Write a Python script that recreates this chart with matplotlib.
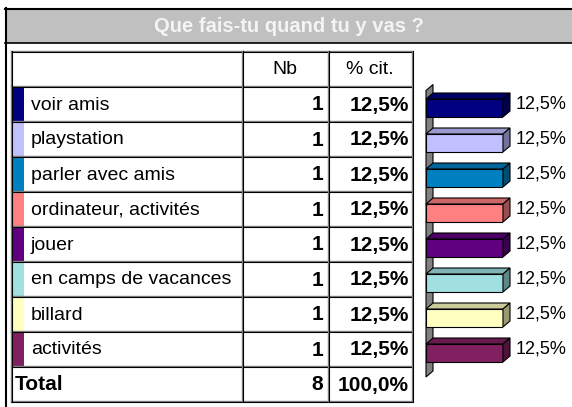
import matplotlib.pyplot as plt
import numpy as np
from matplotlib.patches import Rectangle, Polygon
from matplotlib.colors import to_rgb

plt.rcParams['font.family'] = ['Liberation Sans', 'DejaVu Sans']

titre = 'Que fais-tu quand tu y vas ?'
reponses = ['voir amis', 'playstation', 'parler avec amis', 'ordinateur, activités',
            'jouer', 'en camps de vacances', 'billard', 'activités']
nb = [1, 1, 1, 1, 1, 1, 1, 1]
couleurs = ['#000080', '#C0C0FF', '#0080C0', '#FF8080',
            '#600080', '#A0E0E0', '#FFFFC0', '#802060']

total = sum(nb)
pct = [100.0 * n / total for n in nb]


def fmt(v):
    return f'{v:.1f}'.replace('.', ',') + '%'


W, H = 572, 407
fig = plt.figure(figsize=(W / 100, H / 100), dpi=100)
fig.patch.set_facecolor('white')

# fond en pixels pour le cadre et le tableau
bg = fig.add_axes([0, 0, 1, 1])
bg.set_xlim(0, W)
bg.set_ylim(H, 0)
bg.axis('off')

# cadre + bandeau du titre
bg.add_patch(Rectangle((6, 9), W, 34, facecolor='#C0C0C0', edgecolor='none'))
bg.plot([5.5, 5.5], [8, H], color='black', lw=1.5)
bg.plot([5, W], [9, 9], color='black', lw=1.5)
bg.plot([5, W], [43, 43], color='black', lw=1.2)
bg.text(289, 27, titre, color='#F4F4F4', fontsize=14.5, fontweight='bold',
        ha='center', va='center')

# tableau
col_x = [11, 242, 328, 412]
haut = 51
h_row = 35
n = len(reponses)
lignes_y = [haut + h_row * k for k in range(n + 3)]
bas = lignes_y[-1]

for k, c in enumerate(couleurs):
    y0 = lignes_y[k + 1]
    bg.add_patch(Rectangle((col_x[0], y0), 13, h_row, facecolor=c, edgecolor='none'))

for y in lignes_y:
    bg.plot([col_x[0], col_x[-1]], [y, y], color='#808080', lw=1)
    bg.plot([col_x[0], col_x[-1]], [y + 1, y + 1], color='black', lw=0.8)
for x in col_x:
    bg.plot([x, x], [haut, bas], color='#808080', lw=1)
    bg.plot([x + 1, x + 1], [haut, bas + 1], color='black', lw=0.8)

fs = 14
fsb = 15
dy_txt = 1.5
yc = haut + h_row / 2 + dy_txt
bg.text((col_x[1] + col_x[2]) / 2, yc, 'Nb', fontsize=fs, ha='center', va='center')
bg.text((col_x[2] + col_x[3]) / 2, yc, '% cit.', fontsize=fs, ha='center', va='center')

for k in range(n):
    yc = lignes_y[k + 1] + h_row / 2 + dy_txt
    bg.text(31, yc, reponses[k], fontsize=fs, ha='left', va='center')
    bg.text(col_x[2] - 5, yc, str(nb[k]), fontsize=fsb, fontweight='bold',
            ha='right', va='center')
    bg.text(col_x[3] - 3, yc, fmt(pct[k]), fontsize=fsb, fontweight='bold',
            ha='right', va='center')

yc = lignes_y[n + 1] + h_row / 2 + dy_txt
bg.text(15, yc, 'Total', fontsize=fsb, fontweight='bold', ha='left', va='center')
bg.text(col_x[2] - 5, yc, str(total), fontsize=fsb, fontweight='bold', ha='right', va='center')
bg.text(col_x[3] - 3, yc, fmt(sum(pct)), fontsize=fsb, fontweight='bold', ha='right', va='center')

# barres 3D
x0, x1 = 426, 503
y_top, y_bot = 90.5, 370.5
ax = fig.add_axes([x0 / W, 1 - y_bot / H, (x1 - x0) / W, (y_bot - y_top) / H])
ax.set_xlim(0, 12.5)
ax.set_ylim(n - 0.5, -0.5)
ax.axis('off')

dpx, dpy = 7, 6
dx = dpx * 12.5 / (x1 - x0)
dy = dpy / h_row
bh = 18 / h_row

# paroi
y_wall = n - 0.5 + 6.5 / h_row
ax.add_patch(Polygon([(0, -0.5), (dx, -0.5 - dy), (dx, y_wall - dy), (0, y_wall)],
                     closed=True, facecolor='#808080', edgecolor='black', lw=0.8,
                     clip_on=False, zorder=1))

pos = np.arange(n)
bars = ax.barh(pos, pct, height=bh, color=couleurs, edgecolor='black', lw=0.8, zorder=3)
for k, (b, c) in enumerate(zip(bars, couleurs)):
    w = b.get_width()
    t = b.get_y()
    bt = t + b.get_height()
    rgb = np.array(to_rgb(c))
    ax.add_patch(Polygon([(0, t), (w, t), (w + dx, t - dy), (dx, t - dy)], closed=True,
                         facecolor=rgb * 0.8, edgecolor='black', lw=0.8,
                         clip_on=False, zorder=3))
    ax.add_patch(Polygon([(w, t), (w + dx, t - dy), (w + dx, bt - dy), (w, bt)], closed=True,
                         facecolor=rgb * 0.6, edgecolor='black', lw=0.8,
                         clip_on=False, zorder=3))
    ax.annotate(fmt(pct[k]), (w, pos[k]), xytext=(13, 4), textcoords='offset pixels',
                fontsize=13, ha='left', va='center', annotation_clip=False)

fig.savefig('out.png', dpi=100)
